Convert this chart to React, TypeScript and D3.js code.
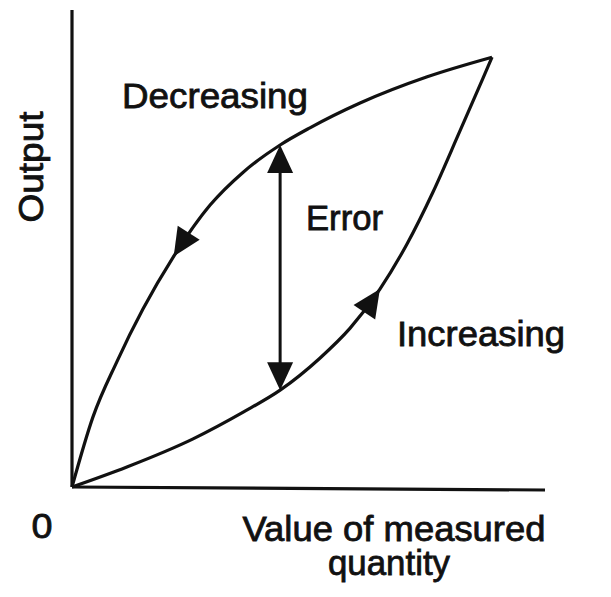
import React, { useEffect, useRef } from 'react';
import * as d3 from 'd3';

const W = 611;
const H = 597;

// loop, both branches run from the origin to the top corner
const quantityDown = [0, 0.044, 0.095, 0.15, 0.214, 0.292, 0.362, 0.44, 0.503, 0.609, 0.751, 0.888];
const outputDown = [0, 0.146, 0.263, 0.373, 0.482, 0.591, 0.66, 0.717, 0.753, 0.805, 0.86, 0.901];
const quantityUp = [0, 0.116, 0.256, 0.362, 0.44, 0.524, 0.588, 0.651, 0.708, 0.763, 0.82, 0.869, 0.888];
const outputUp = [0, 0.042, 0.101, 0.157, 0.203, 0.27, 0.333, 0.415, 0.509, 0.618, 0.746, 0.857, 0.901];

const errorAt = 0.44;
const arrowDownAt = 0.215;
const arrowUpAt = 0.651;

const font = "'Liberation Sans', Arial, sans-serif";

export default function App() {
  const svgRef = useRef<SVGSVGElement>(null);

  useEffect(() => {
    const svg = d3.select(svgRef.current);
    svg.selectAll('*').remove();

    const x = d3.scaleLinear().domain([0, 1]).range([72, 545]);
    const y = d3.scaleLinear().domain([0, 1]).range([487, 10]);

    const line = d3.line<[number, number]>()
      .x(d => x(d[0]))
      .y(d => y(d[1]))
      .curve(d3.curveMonotoneX);

    // axes
    svg.append('line')
      .attr('x1', x(0)).attr('y1', y(1))
      .attr('x2', x(0)).attr('y2', y(0))
      .attr('stroke', '#111').attr('stroke-width', 3.2);
    svg.append('line')
      .attr('x1', x(0)).attr('y1', y(0))
      .attr('x2', x(1)).attr('y2', y(0) + 3)
      .attr('stroke', '#111').attr('stroke-width', 3.2);

    const down: [number, number][] = quantityDown.map((q, i) => [q, outputDown[i]]);
    const up: [number, number][] = quantityUp.map((q, i) => [q, outputUp[i]]);

    const pDown = svg.append('path').attr('d', line(down))
      .attr('fill', 'none').attr('stroke', '#111').attr('stroke-width', 3.2);
    const pUp = svg.append('path').attr('d', line(up))
      .attr('fill', 'none').attr('stroke', '#111').attr('stroke-width', 3.2);

    const head = (tx: number, ty: number, ang: number) => {
      const len = 28, hw = 13;
      const c = Math.cos(ang), s = Math.sin(ang);
      const bx = tx - c * len, by = ty - s * len;
      const pts = [
        [tx, ty],
        [bx - s * hw, by + c * hw],
        [bx + s * hw, by - c * hw],
      ];
      svg.append('polygon')
        .attr('points', pts.map(p => p.join(',')).join(' '))
        .attr('fill', '#111');
    };

    // length along a path where it reaches a given quantity
    const lengthAt = (node: SVGPathElement, q: number) => {
      let lo = 0, hi = node.getTotalLength();
      for (let k = 0; k < 40; k++) {
        const mid = (lo + hi) / 2;
        if (node.getPointAtLength(mid).x < x(q)) lo = mid; else hi = mid;
      }
      return lo;
    };

    const headOnPath = (node: SVGPathElement, q: number, reverse: boolean) => {
      const total = node.getTotalLength();
      const l = lengthAt(node, q);
      const p = node.getPointAtLength(l);
      const a = node.getPointAtLength(Math.max(0, l - 3));
      const b = node.getPointAtLength(Math.min(total, l + 3));
      let ang = Math.atan2(b.y - a.y, b.x - a.x);
      if (reverse) ang += Math.PI;
      head(p.x, p.y, ang);
    };

    const nDown = pDown.node() as SVGPathElement;
    const nUp = pUp.node() as SVGPathElement;
    headOnPath(nDown, arrowDownAt, true);
    headOnPath(nUp, arrowUpAt, false);

    // error arrow between both branches
    const yTop = nDown.getPointAtLength(lengthAt(nDown, errorAt)).y;
    const yBot = nUp.getPointAtLength(lengthAt(nUp, errorAt)).y;
    svg.append('line')
      .attr('x1', x(errorAt)).attr('y1', yTop + 20)
      .attr('x2', x(errorAt)).attr('y2', yBot - 20)
      .attr('stroke', '#111').attr('stroke-width', 3);
    head(x(errorAt), yTop, -Math.PI / 2);
    head(x(errorAt), yBot, Math.PI / 2);

    const txt = (t: string, tx: number, ty: number, len: number, anchor = 'start') =>
      svg.append('text')
        .attr('x', tx).attr('y', ty)
        .attr('text-anchor', anchor)
        .attr('font-family', font)
        .attr('font-size', 35)
        .attr('textLength', len)
        .attr('lengthAdjust', 'spacingAndGlyphs')
        .attr('fill', '#111')
        .attr('stroke', '#111').attr('stroke-width', 0.8)
        .text(t);

    txt('Decreasing', 122, 108, 186);
    txt('Error', 306, 230, 77);
    txt('Increasing', 397, 346, 168);
    txt('0', 42, 538, 21, 'middle');
    txt('Value of measured', 394, 541, 303, 'middle');
    txt('quantity', 389, 575, 122, 'middle');
    txt('Output', 0, 0, 111, 'middle')
      .attr('transform', 'translate(43,167) rotate(-90)');
  }, []);

  return (
    <svg
      ref={svgRef}
      width={W}
      height={H}
      style={{ position: 'absolute', left: 0, top: 0, background: '#fff' }}
    />
  );
}
